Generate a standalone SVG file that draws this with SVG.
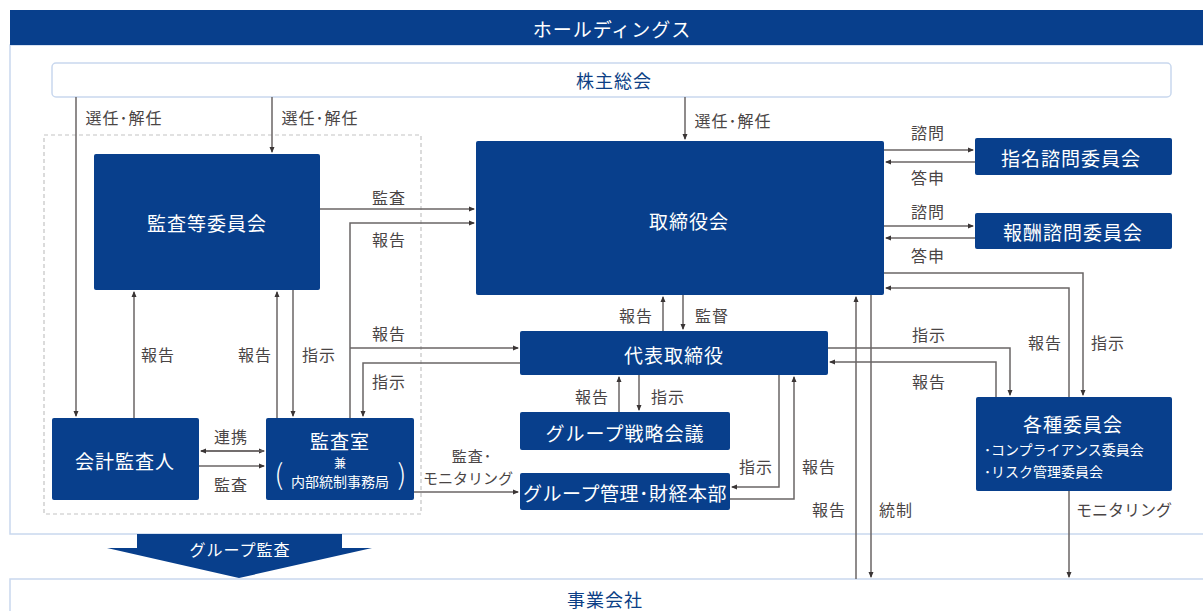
<svg xmlns="http://www.w3.org/2000/svg" width="1203" height="611" viewBox="0 0 1203 611">
<defs>
<marker id="ah" viewBox="0 0 6 6" refX="5" refY="3" markerWidth="6" markerHeight="6" markerUnits="userSpaceOnUse" orient="auto">
<path d="M0,0.5 L6,3 L0,5.5 Z" fill="#3a3535"/>
</marker>
<style>
.node{fill:#083f8c;}
.nt{fill:#ffffff;font-family:"Noto Sans CJK JP","Noto Sans",sans-serif;font-size:19px;letter-spacing:1px;text-anchor:middle;dominant-baseline:central;}
.st{fill:#ffffff;font-family:"Noto Sans CJK JP","Noto Sans",sans-serif;font-size:14px;dominant-baseline:central;}
.lb{fill:#4a4545;font-family:"Noto Sans CJK JP","Noto Sans",sans-serif;font-size:16px;letter-spacing:1px;text-anchor:middle;dominant-baseline:central;}
.ln{fill:none;stroke:#6a6565;stroke-width:1.5;}
.ar{marker-end:url(#ah);}
.frame{fill:#ffffff;stroke:#c9d8ee;stroke-width:1.5;}
</style>
</defs>
<rect width="1203" height="611" fill="#ffffff"/>

<g id="holdings">
<rect x="10" y="45" width="1200" height="489" class="frame"/>
<rect x="10" y="10" width="1200" height="35" class="node"/>
<text x="612" y="28" class="nt">ホールディングス</text>
</g>

<g id="jigyo">
<rect x="10" y="579" width="1200" height="45" class="frame"/>
<text x="605" y="599" class="lb" style="fill:#0c3f86;font-size:18px">事業会社</text>
</g>

<g id="kabunushi">
<rect x="52" y="63" width="1119" height="34" rx="4" class="frame"/>
<text x="614" y="80" class="lb" style="fill:#0c3f86;font-size:18px">株主総会</text>
</g>

<g id="audit-frame">
<rect x="44" y="135" width="377" height="379" fill="none" stroke="#c4c4c4" stroke-width="1.2" stroke-dasharray="4,3"/>
</g>

<g id="connectors">
<path class="ln ar" d="M76,97 V416"/>
<path class="ln ar" d="M272,97 V152"/>
<path class="ln ar" d="M685,97 V139"/>
<path class="ln ar" d="M320,209 H474"/>
<path class="ln ar" d="M350,418 V223 H474"/>
<path class="ln ar" d="M350,348 H518"/>
<path class="ln ar" d="M520,363 H363 V416"/>
<path class="ln ar" d="M134,418 V292"/>
<path class="ln ar" d="M277,418 V292"/>
<path class="ln ar" d="M293,290 V416"/>
<path class="ln ar" d="M201,451 H264"/>
<path class="ln ar" d="M264,451 H201"/>
<path class="ln ar" d="M199,466 H264"/>
<path class="ln ar" d="M414,492 H518"/>
<path class="ln ar" d="M663,331 V297"/>
<path class="ln ar" d="M683,295 V329"/>
<path class="ln ar" d="M619,412 V377"/>
<path class="ln ar" d="M639,375 V410"/>
<path class="ln ar" d="M779,375 V487 H732"/>
<path class="ln ar" d="M730,499 H794 V377"/>
<path class="ln ar" d="M856,579 V297"/>
<path class="ln ar" d="M871,295 V577"/>
<path class="ln ar" d="M884,150 H973"/>
<path class="ln ar" d="M975,162 H886"/>
<path class="ln ar" d="M884,226 H973"/>
<path class="ln ar" d="M975,238 H886"/>
<path class="ln ar" d="M884,273 H1083 V395"/>
<path class="ln ar" d="M1069,397 V288 H886"/>
<path class="ln ar" d="M828,348 H1010 V395"/>
<path class="ln ar" d="M996,397 V362 H830"/>
<path class="ln ar" d="M1069,491 V577"/>
</g>

<g id="labels">
<text x="124" y="117" class="lb">選任･解任</text>
<text x="320" y="117" class="lb">選任･解任</text>
<text x="733" y="120" class="lb">選任･解任</text>
<text x="389" y="197" class="lb">監査</text>
<text x="389" y="239" class="lb">報告</text>
<text x="389" y="333" class="lb">報告</text>
<text x="389" y="381" class="lb">指示</text>
<text x="158" y="354" class="lb">報告</text>
<text x="255" y="354" class="lb">報告</text>
<text x="319" y="354" class="lb">指示</text>
<text x="231" y="436" class="lb">連携</text>
<text x="231" y="484" class="lb">監査</text>
<text x="472" y="455" class="lb" style="font-size:15px">監査･</text>
<text x="468" y="477" class="lb" style="letter-spacing:0;font-size:15px">モニタリング</text>
<text x="636" y="315" class="lb">報告</text>
<text x="712" y="315" class="lb">監督</text>
<text x="592" y="396" class="lb">報告</text>
<text x="668" y="396" class="lb">指示</text>
<text x="756" y="466" class="lb">指示</text>
<text x="819" y="466" class="lb">報告</text>
<text x="829" y="509" class="lb">報告</text>
<text x="896" y="509" class="lb">統制</text>
<text x="928" y="132" class="lb">諮問</text>
<text x="928" y="177" class="lb">答申</text>
<text x="928" y="211" class="lb">諮問</text>
<text x="928" y="255" class="lb">答申</text>
<text x="929" y="334" class="lb">指示</text>
<text x="929" y="381" class="lb">報告</text>
<text x="1045" y="342" class="lb">報告</text>
<text x="1108" y="342" class="lb">指示</text>
<text x="1124" y="509" class="lb" style="letter-spacing:0">モニタリング</text>
</g>

<g id="kansatou">
<rect x="94" y="154" width="226" height="136" rx="2" class="node"/>
<text x="207" y="222" class="nt">監査等委員会</text>
</g>

<g id="torishimariyakukai">
<rect x="476" y="141" width="408" height="154" rx="2" class="node"/>
<text x="689" y="220" class="nt">取締役会</text>
</g>

<g id="shimei">
<rect x="975" y="138" width="197" height="37" rx="2" class="node"/>
<text x="1071" y="157" class="nt">指名諮問委員会</text>
</g>

<g id="houshu">
<rect x="975" y="213" width="197" height="36" rx="2" class="node"/>
<text x="1073" y="231" class="nt">報酬諮問委員会</text>
</g>

<g id="daihyo">
<rect x="520" y="331" width="308" height="44" rx="2" class="node"/>
<text x="674" y="354" class="nt">代表取締役</text>
</g>

<g id="senryaku">
<rect x="520" y="412" width="210" height="38" rx="2" class="node"/>
<text x="625" y="432" class="nt">グループ戦略会議</text>
</g>

<g id="kanri">
<rect x="520" y="473" width="210" height="37" rx="2" class="node"/>
<text x="625" y="492" class="nt" style="letter-spacing:0.5px">グループ管理･財経本部</text>
</g>

<g id="kaikei">
<rect x="52" y="418" width="147" height="82" rx="2" class="node"/>
<text x="125" y="460" class="nt">会計監査人</text>
</g>

<g id="kansashitsu">
<rect x="266" y="418" width="148" height="82" rx="2" class="node"/>
<text x="340" y="440" class="nt">監査室</text>
<text x="340" y="462" class="st" style="text-anchor:middle;font-size:12px">兼</text>
<text x="340" y="481" class="st" style="text-anchor:middle;font-size:14px">内部統制事務局</text>
<text x="279" y="473" class="st" style="text-anchor:middle;font-size:28px;font-weight:300">(</text>
<text x="402" y="473" class="st" style="text-anchor:middle;font-size:28px;font-weight:300">)</text>
</g>

<g id="kakushu">
<rect x="976" y="397" width="196" height="94" rx="2" class="node"/>
<text x="1073" y="423" class="nt">各種委員会</text>
<text x="984" y="449" class="st">･コンプライアンス委員会</text>
<text x="984" y="471" class="st">･リスク管理委員会</text>
</g>

<g id="group-audit">
<path d="M137,534 H342 V548 H372 L239,578 L107,548 H137 Z" class="node"/>
<text x="240" y="549" class="nt" style="font-size:16px">グループ監査</text>
</g>
</svg>
